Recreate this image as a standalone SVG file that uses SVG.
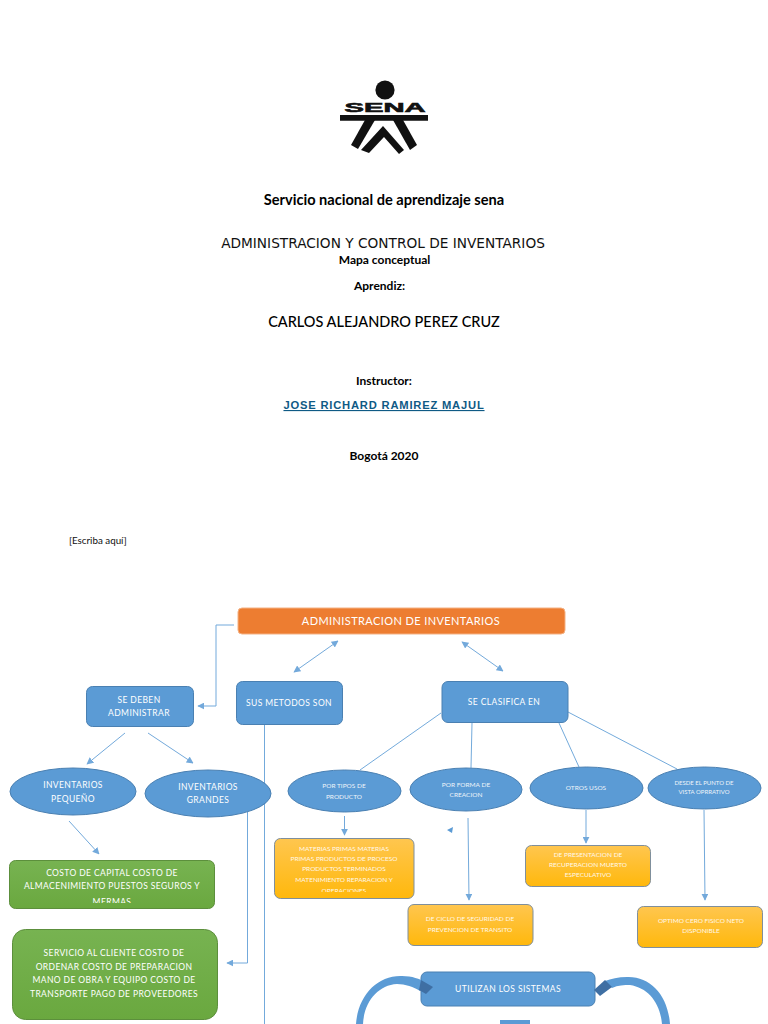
<svg xmlns="http://www.w3.org/2000/svg" width="768" height="1024" viewBox="0 0 768 1024">
<style>
.c{font-family:"Lato","Open Sans","Liberation Sans",sans-serif;text-anchor:middle}
.h{fill:#000;font-weight:700}
.w{fill:#fff;letter-spacing:.4px}
.g{font-size:8.500px}
.s{fill:#fff;font-size:6.500px;opacity:.9}
.blue{fill:#5b9bd5;stroke:#4a80b2;stroke-width:1}
.yel{fill:url(#gy);stroke:#7f8f9c;stroke-width:1}
.grn{fill:url(#gg);stroke:#5c8f3c;stroke-width:1}
.ln{fill:none;stroke:#5b9bd5;stroke-width:1;opacity:.85}
.ar{fill:#5b9bd5}
.dk{fill:#3f6fa3}
</style>
<defs>
<linearGradient id="gy" x1="0" y1="0" x2="0" y2="1"><stop offset="0" stop-color="#ffc64f"/><stop offset="1" stop-color="#ffb80c"/></linearGradient>
<linearGradient id="gg" x1="0" y1="0" x2="0" y2="1"><stop offset="0" stop-color="#77b351"/><stop offset="1" stop-color="#6aa83f"/></linearGradient>
<marker id="a" viewBox="0 0 10 10" refX="9" refY="5" markerWidth="7" markerHeight="7" markerUnits="userSpaceOnUse" orient="auto-start-reverse"><path d="M0 0L10 5L0 10Z" fill="#5b9bd5"/></marker>
<clipPath id="cg1"><rect x="9" y="860" width="206" height="43"/></clipPath>
<clipPath id="cy1"><rect x="274" y="838" width="140" height="54"/></clipPath>
</defs>
<rect width="768" height="1024" fill="#fff"/>
<g id="logo">
<circle cx="385" cy="90" r="9.600" fill="#111"/>
<text x="385" y="111.700" font-family="Liberation Sans,sans-serif" font-weight="700" font-size="13.500" fill="#111" stroke="#111" stroke-width=".6" text-anchor="middle" textLength="81" lengthAdjust="spacingAndGlyphs">SENA</text>
<path fill="#111" d="M340 115H428V120.700H340Z"/>
<path fill="#111" d="M365 120H375L358 149L351 145Z"/>
<path fill="#111" d="M393 120H403L417 145L410 150Z"/>
<path fill="#111" d="M383 126L404 150L399 154L384 137L369 153L361 150Z"/>
</g>
<g id="portada">
<text class="c h" x="384" y="205" font-size="14.600">Servicio nacional de aprendizaje sena</text>
<text x="383" y="248" fill="#111" text-anchor="middle" style="font-family:'DejaVu Sans',sans-serif;font-size:13.700px">ADMINISTRACION Y CONTROL DE INVENTARIOS</text>
<text class="c h" x="384.500" y="264" font-size="12">Mapa conceptual</text>
<text class="c h" x="379.500" y="290" font-size="12">Aprendiz:</text>
<text class="c" x="384" y="327" font-size="14.500" fill="#000" style="font-weight:500">CARLOS ALEJANDRO PEREZ CRUZ</text>
<text class="c h" x="384" y="385" font-size="12">Instructor:</text>
<text x="384" y="409" font-family="Liberation Sans,sans-serif" font-weight="700" font-size="11.200" fill="#0f5a85" text-anchor="middle" text-decoration="underline" letter-spacing=".8">JOSE RICHARD RAMIREZ MAJUL</text>
<text class="c h" x="384" y="460" font-size="12">Bogotá 2020</text>
<text x="69" y="544" font-family="Lato,sans-serif" font-size="9.800" fill="#111">[Escriba aquí]</text>
</g>
<g id="connectors">
<path class="ln" d="M234 625H216V706H198" marker-end="url(#a)"/>
<path class="ln" d="M294 672L338 641" marker-start="url(#a)" marker-end="url(#a)"/>
<path class="ln" d="M462 642L503 671" marker-start="url(#a)" marker-end="url(#a)"/>
<path class="ln" d="M125 733L87 764" marker-end="url(#a)"/>
<path class="ln" d="M148 733L193 763" marker-end="url(#a)"/>
<path class="ln" d="M69 821L99 854" marker-end="url(#a)"/>
<path class="ln" d="M264.500 725V1024"/>
<path class="ln" d="M247.500 812V963H227" marker-end="url(#a)"/>
<path class="ln" d="M344.500 816V835" marker-end="url(#a)"/>
<path class="ar" d="M447 830L453 827L452 833Z"/>
<path class="ln" d="M468 818L469 900" marker-end="url(#a)"/>
<path class="ln" d="M586 810V843" marker-end="url(#a)"/>
<path class="ln" d="M704 810L705 900" marker-end="url(#a)"/>
<path class="ln" d="M441 713L360 770"/>
<path class="ln" d="M472 723L471 768"/>
<path class="ln" d="M559 723L579 767"/>
<path class="ln" d="M568 712L677 769"/>
</g>
<g id="n-admin"><rect x="238" y="608" width="327" height="26" rx="4" fill="#ed7d31" stroke="#f4b183" stroke-width="1"/><text class="c w" x="401" y="625" font-size="11">ADMINISTRACION DE INVENTARIOS</text></g>
<g id="n-deben"><rect class="blue" x="86.500" y="686.500" width="107" height="40" rx="6"/><text class="c w" x="139" y="703" font-size="8.500">SE DEBEN</text><text class="c w" x="139" y="716" font-size="8.500">ADMINISTRAR</text></g>
<g id="n-metodos"><rect class="blue" x="236.500" y="681.500" width="106" height="43" rx="6"/><text class="c w" x="289" y="706" font-size="8.500">SUS METODOS SON</text></g>
<g id="n-clasifica"><rect class="blue" x="442" y="681.500" width="126" height="41" rx="6"/><text class="c w" x="504" y="705" font-size="8.500">SE CLASIFICA EN</text></g>
<g id="n-pequeno"><ellipse class="blue" cx="73" cy="791.500" rx="63" ry="23.500"/><text class="c w" x="73" y="788" font-size="8.500">INVENTARIOS</text><text class="c w" x="73" y="802" font-size="8.500">PEQUEÑO</text></g>
<g id="n-grandes"><ellipse class="blue" cx="208" cy="793.500" rx="63" ry="23.500"/><text class="c w" x="208" y="790" font-size="8.500">INVENTARIOS</text><text class="c w" x="208" y="803" font-size="8.500">GRANDES</text></g>
<g id="n-tipos"><ellipse class="blue" cx="344.500" cy="791" rx="56.500" ry="21"/><text class="c s" x="344" y="788">POR TIPOS DE</text><text class="c s" x="344" y="799">PRODUCTO</text></g>
<g id="n-forma"><ellipse class="blue" cx="466" cy="789.500" rx="56" ry="21.500"/><text class="c s" x="466" y="787">POR FORMA DE</text><text class="c s" x="466" y="797">CREACION</text></g>
<g id="n-otros"><ellipse class="blue" cx="586.500" cy="788" rx="56.500" ry="21"/><text class="c s" x="586" y="790">OTROS USOS</text></g>
<g id="n-desde"><ellipse class="blue" cx="704.500" cy="788" rx="56.500" ry="21"/><text class="c s" x="704" y="785" style="font-size:6px">DESDE EL PUNTO DE</text><text class="c s" x="704" y="794" style="font-size:6px">VISTA OPRRATIVO</text></g>
<g id="n-g1"><rect class="grn" x="9.500" y="860.500" width="205" height="48" rx="6"/><g clip-path="url(#cg1)"><text class="c w g" x="112" y="876">COSTO DE CAPITAL COSTO DE</text><text class="c w g" x="112" y="889">ALMACENIMIENTO PUESTOS SEGUROS Y</text><text class="c w g" x="112" y="905">MERMAS</text></g></g>
<g id="n-g2"><rect class="grn" x="12.500" y="929.500" width="205" height="90" rx="13"/><text class="c w g" x="114" y="956">SERVICIO AL CLIENTE COSTO DE</text><text class="c w g" x="114" y="970">ORDENAR COSTO DE PREPARACION</text><text class="c w g" x="114" y="983">MANO DE OBRA Y EQUIPO COSTO DE</text><text class="c w g" x="114" y="997">TRANSPORTE PAGO DE PROVEEDORES</text></g>
<g id="n-y1"><rect class="yel" x="274.500" y="838.500" width="139.500" height="60" rx="6"/><g clip-path="url(#cy1)"><text class="c s" x="344" y="851">MATERIAS PRIMAS MATERIAS</text><text class="c s" x="344" y="861">PRIMAS PRODUCTOS DE PROCESO</text><text class="c s" x="344" y="871">PRODUCTOS TERMINADOS</text><text class="c s" x="344" y="882">MATENIMIENTO REPARACION Y</text><text class="c s" x="344" y="892.500">OPERACIONES</text></g></g>
<g id="n-y2"><rect class="yel" x="408" y="904.500" width="125" height="41" rx="6"/><text class="c s" x="470" y="921">DE CICLO DE SEGURIDAD DE</text><text class="c s" x="470" y="932">PREVENCION DE TRANSITO</text></g>
<g id="n-y3"><rect class="yel" x="525.500" y="845.500" width="125" height="41" rx="6"/><text class="c s" x="588" y="857">DE PRESENTACION DE</text><text class="c s" x="588" y="867">RECUPERACION MUERTO</text><text class="c s" x="588" y="877">ESPECULATIVO</text></g>
<g id="n-y4"><rect class="yel" x="637.500" y="906.500" width="125" height="41" rx="6"/><text class="c s" x="701" y="923">OPTIMO CERO FISICO NETO</text><text class="c s" x="701" y="933">DISPONIBLE</text></g>
<g id="n-sistemas"><rect class="blue" x="421" y="972" width="174" height="34" rx="6"/><text class="c w" x="508" y="992" font-size="8.500">UTILIZAN LOS SISTEMAS</text></g>
<g id="n-arcos">
<path fill="#5b9bd5" d="M356 1024C358 995 378 975 402 976C412 976 420 979 425 982L420 991C414 987 405 984 397 984C378 985 364 1002 363 1024Z"/>
<path class="dk" d="M421 980L433 987L426 994L419 990Z"/>
<path fill="#5b9bd5" d="M670 1024C668 995 650 976 627 977C618 977 611 979 605 981L612 988C618 985 624 985 630 985C648 988 660 1002 662 1024Z"/>
<path class="dk" d="M594 990L605 980L612 987L600 996Z"/>
<rect x="500" y="1020" width="30" height="4" fill="#5b9bd5"/>
</g>
</svg>
